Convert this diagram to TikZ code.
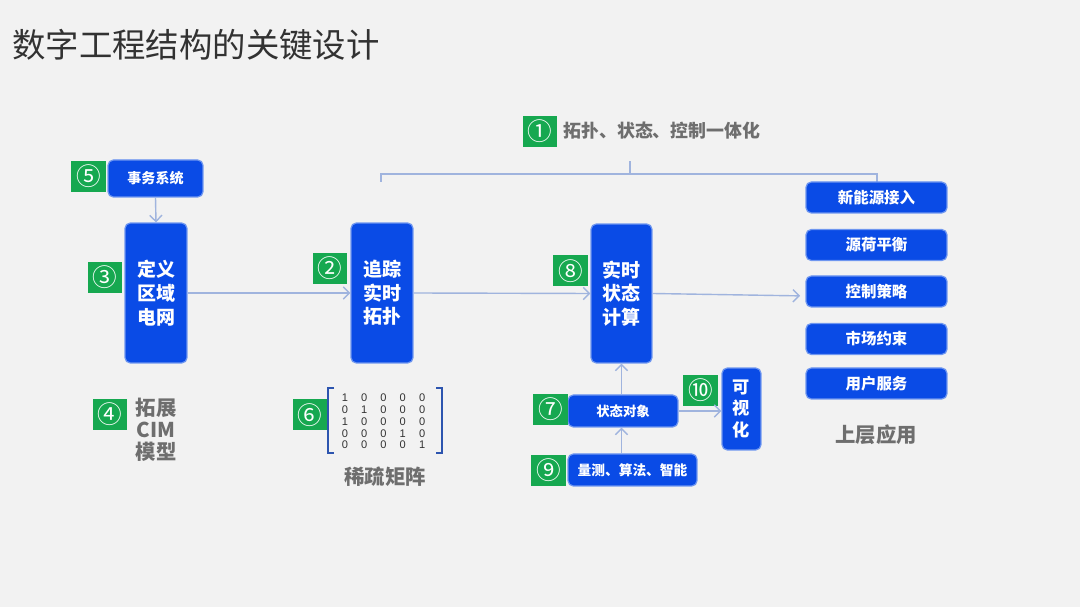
\documentclass[tikz,border=0pt]{standalone}
\usepackage{fontspec}
\usepackage{xcolor}
\usetikzlibrary{arrows.meta,matrix}
\newfontfamily\cjk{Noto Sans CJK SC}
\newfontfamily\numfont{Liberation Sans}
\definecolor{bgpanel}{RGB}{242,242,242}
\definecolor{boxblue}{RGB}{10,75,230}
\definecolor{boxedge}{RGB}{110,150,240}
\definecolor{badgegreen}{RGB}{22,168,80}
\definecolor{linkblue}{RGB}{160,180,222}
\definecolor{labelgray}{RGB}{110,110,110}
\definecolor{titlegray}{RGB}{50,50,50}
\definecolor{bracketblue}{RGB}{45,85,175}

\tikzset{
  bluebox/.style={fill=boxblue,draw=boxedge,line width=0.7pt,rounded corners=3pt,
    text=white,font=\cjk\bfseries,inner sep=0pt,align=center},
  badge/.style={fill=badgegreen,text=white,minimum width=0.7cm,minimum height=0.62cm,
    inner sep=0pt,font=\cjk\fontsize{14}{14}\selectfont},
  graylabel/.style={text=labelgray,font=\cjk\bfseries\fontsize{11.6}{12.6}\selectfont,align=center},
  link/.style={draw=linkblue,line width=0.8pt,-{Straight Barb[length=3.5pt,width=7pt]}},
}

\begin{document}
\begin{tikzpicture}[x=0.02cm,y=-0.02cm]

%% ── background ───────────────────────────────────────────────────────────────
\fill[bgpanel] (0,0) rectangle (1080,607);
\useasboundingbox (0,0) rectangle (1080,607);

%% title
\node[anchor=west,text=titlegray,font=\cjk\fontsize{19}{19}\selectfont,inner sep=0pt]
  (title) at (12,45) {数字工程结构的关键设计};

%% ════════════════════════════════════════════════════════════════════════════
%%  TOP — integration bracket
%% ════════════════════════════════════════════════════════════════════════════
\node[badge] (b1) at (540,131.5) {①};
\node[anchor=west,text=labelgray,font=\cjk\bfseries\fontsize{10.2}{10.2}\selectfont,inner sep=0pt]
  (unify) at (563,131) {拓扑、状态、控制一体化};
\draw[linkblue,line width=0.8pt] (381,182) -- (381,174) -- (877,174) -- (877,182);
\draw[linkblue,line width=0.8pt] (630,174) -- (630,161);

%% ════════════════════════════════════════════════════════════════════════════
%%  LEFT — grid definition
%% ════════════════════════════════════════════════════════════════════════════
\node[bluebox,minimum width=1.9cm,minimum height=0.74cm,font=\cjk\bfseries\fontsize{8}{8}\selectfont]
  (sys) at (155.5,178.5) {事务系统};
\node[badge] (b5) at (88.5,176.5) {⑤};

\node[bluebox,minimum width=1.24cm,minimum height=2.8cm,font=\cjk\bfseries\fontsize{10.8}{13.5}\selectfont]
  (grid) at (156,293) {定义\\区域\\电网};
\node[badge] (b3) at (105,277.5) {③};

\node[badge] (b4) at (110,414.5) {④};
\node[graylabel] (cim) at (156,430) {拓展\\CIM\\模型};

%% ════════════════════════════════════════════════════════════════════════════
%%  MIDDLE — topology tracking
%% ════════════════════════════════════════════════════════════════════════════
\node[bluebox,minimum width=1.24cm,minimum height=2.8cm,font=\cjk\bfseries\fontsize{10.8}{13.5}\selectfont]
  (trace) at (382,293) {追踪\\实时\\拓扑};
\node[badge] (b2) at (330,268.5) {②};

%% sparse matrix
\matrix (sparse) [matrix of nodes,
  nodes={font=\numfont\fontsize{6.3}{6.3}\selectfont,inner sep=0pt,
    minimum width=0.386cm,minimum height=0.234cm,text=titlegray}]
  at (383.5,421.5) {
  1 & 0 & 0 & 0 & 0 \\
  0 & 1 & 0 & 0 & 0 \\
  1 & 0 & 0 & 0 & 0 \\
  0 & 0 & 0 & 1 & 0 \\
  0 & 0 & 0 & 0 & 1 \\
};
\draw[bracketblue,line width=1.1pt] (334,388) -- (328,388) -- (328,453) -- (334,453);
\draw[bracketblue,line width=1.1pt] (436,388) -- (442,388) -- (442,453) -- (436,453);
\node[badge] (b6) at (310,415) {⑥};
\node[graylabel] (sparselbl) at (385,477) {稀疏矩阵};

%% ════════════════════════════════════════════════════════════════════════════
%%  RIGHT-CENTRE — real-time state
%% ════════════════════════════════════════════════════════════════════════════
\node[bluebox,minimum width=1.22cm,minimum height=2.78cm,font=\cjk\bfseries\fontsize{10.8}{13.5}\selectfont]
  (calc) at (621.5,293.5) {实时\\状态\\计算};
\node[badge] (b8) at (570.5,271) {⑧};

\node[bluebox,minimum width=2.2cm,minimum height=0.64cm,font=\cjk\bfseries\fontsize{7.6}{7.6}\selectfont]
  (obj) at (623,411) {状态对象};
\node[badge] (b7) at (550.5,409.5) {⑦};

\node[bluebox,minimum width=2.58cm,minimum height=0.64cm,font=\cjk\bfseries\fontsize{7.8}{7.8}\selectfont]
  (meas) at (632.5,470) {量测、算法、智能};
\node[badge] (b9) at (548.5,470.5) {⑨};

\node[bluebox,minimum width=0.78cm,minimum height=1.64cm,font=\cjk\bfseries\fontsize{9.8}{12.5}\selectfont]
  (vis) at (741.5,409) {可\\视\\化};
\node[badge] (b10) at (700.5,390.5) {⑩};

%% ════════════════════════════════════════════════════════════════════════════
%%  FAR RIGHT — upper applications
%% ════════════════════════════════════════════════════════════════════════════
\foreach \name/\txt/\yy in {app1/新能源接入/197.5,app2/源荷平衡/245,app3/控制策略/291.5,
                           app4/市场约束/339,app5/用户服务/383.5}
  \node[bluebox,minimum width=2.82cm,minimum height=0.62cm,font=\cjk\bfseries\fontsize{8.8}{8.8}\selectfont]
    (\name) at (876.5,\yy) {\txt};
\node[graylabel] (applbl) at (876,435) {上层应用};

%% ── connectors ───────────────────────────────────────────────────────────────
\draw[link] (sys.south) -- (grid.north);
\draw[link] (grid.east) -- (trace.west);
\draw[link] (trace.east) -- (calc.west);
\draw[link] (calc.east) -- ([xshift=-3pt,yshift=-2.5pt]app3.west);
\draw[link] (obj.north -| calc.south) -- (calc.south);
\draw[link] (meas.north -| calc.south) -- (obj.south -| calc.south);
\draw[link] (obj.east) -- (obj.east -| vis.west);

\end{tikzpicture}
\end{document}
